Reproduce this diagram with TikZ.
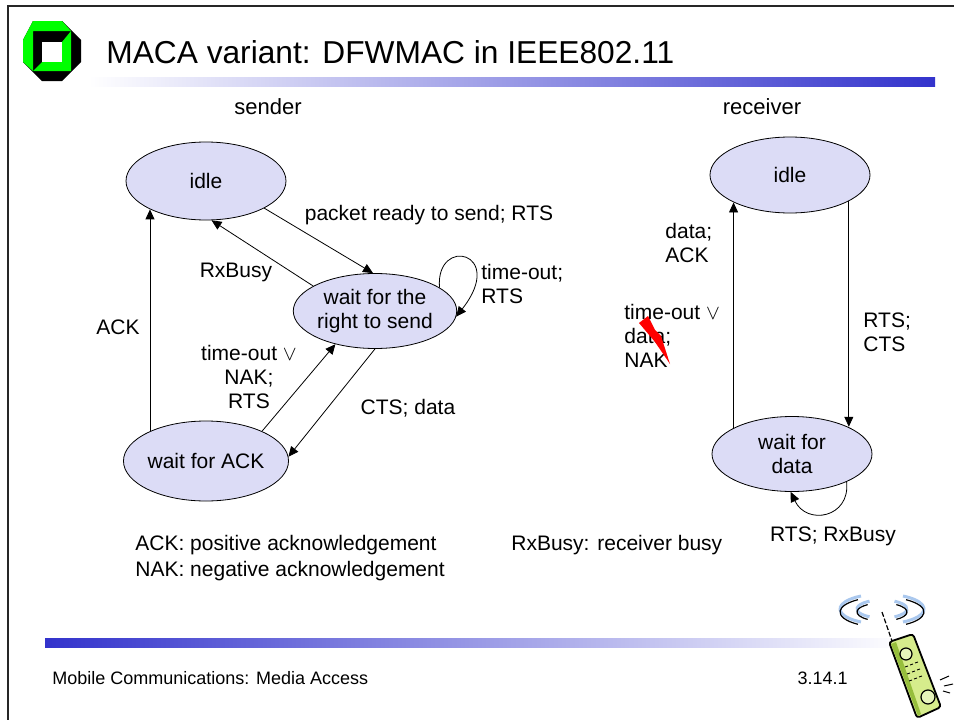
\documentclass[tikz,border=0pt]{standalone}
\usepackage{fontspec}
\setmainfont{Liberation Sans}
\usepackage{xcolor}
\usetikzlibrary{shapes.geometric, positioning, arrows.meta}

\definecolor{statefill}{RGB}{220,220,246}
\definecolor{barblue}{RGB}{51,51,204}
\definecolor{logogreen}{RGB}{0,255,0}
\definecolor{wavblue}{RGB}{170,200,238}
\definecolor{phonegreen}{RGB}{214,236,140}
\definecolor{phonedark}{RGB}{150,190,60}

\tikzset{
    state/.style={ellipse, draw, fill=statefill, inner sep=0pt,
        minimum width=160pt, minimum height=78pt, align=center,
        font=\fontsize{21}{24}\selectfont},
    lbl/.style={inner sep=0pt, font=\fontsize{21}{24}\selectfont},
}

\begin{document}
\begin{tikzpicture}[x=1pt, y=-1pt, >={Triangle[length=10pt,width=9pt]}, line width=0.8pt]
    \useasboundingbox (0,0) rectangle (954,720);
    \fill[white] (0,0) rectangle (954,720);

    % Khung và logo
    \draw[line width=2pt, black!85] (7.5,720) -- (7.5,6) -- (954,6);
    \fill[black] (33,21) -- (62,21) -- (81,40) -- (81,62) -- (62,81) -- (42,81) -- (23,62) -- (23,40) -- cycle;
    \fill[logogreen] (23,40) -- (33,21) -- (62,21) -- (71,31) -- (33,31) -- (33,71) -- (23,62) -- cycle;
    \fill[logogreen] (71,31) -- (71,71) -- (33,71) -- (42,62) -- (62,62) -- (62,42) -- cycle;
    \fill[white] (42,42) rectangle (62,62);

    % Tiêu đề
    \node[anchor=base west, inner sep=0pt, font=\fontsize{31.7}{36}\selectfont] (title) at (106,63)
        {MACA variant: DFWMAC in IEEE802.11};
    \shade[left color=white, right color=barblue] (88,77) rectangle (935,86);

    \node[lbl, font=\fontsize{22}{26}\selectfont] (sender) at (268,107) {sender};
    \node[lbl, font=\fontsize{22}{26}\selectfont] (receiver) at (762,107) {receiver};

    % Các trạng thái
    \node[state] (sidle) at (206,181) {idle};
    \node[state, minimum height=75pt] (swait) at (375,311) {wait for the\\right to send};
    \node[state, minimum height=80pt] (sack) at (206,461) {wait for ACK};
    \node[state, minimum height=76pt] (ridle) at (790,175) {idle};
    \node[state, minimum height=75pt] (rdata) at (792,454) {wait for\\data};

    % Chuyển trạng thái bên gửi
    \draw[->] (sidle.-25) -- (swait.93);
    \draw[->] (swait.158) -- (sidle.-82);
    \draw[->] (swait.20) .. controls +(-4,-52) and +(51,-65) .. (swait.-4);
    \draw[->] (swait.-90) -- (sack.3);
    \draw[->] (sack.28) -- (swait.-140);
    \draw[->] (sack.152) -- (sack.152 |- sidle.-153);

    \node[lbl] (lpkt) at (429,215) {packet ready to send; RTS};
    \node[lbl] (lbusy) at (236,272) {RxBusy};
    \node[lbl, anchor=west, align=left] (lloop) at (481,284) {time-out;\\RTS};
    \node[lbl] (lcts) at (408,408) {CTS; data};
    \node[lbl, align=center] (lnak) at (249,377) {time-out $\vee$\\NAK;\\RTS};
    \node[lbl] (lack) at (118,327) {ACK};

    % Chuyển trạng thái bên nhận
    \draw[->] (ridle.-24) -- (ridle.-24 |- rdata.26);
    \draw[->] (rdata.156) -- (rdata.156 |- ridle.-154);
    \draw[->] (rdata.-27) .. controls +(4,36) and +(16,34) .. (rdata.-92);

    \node[lbl, anchor=west, align=left] (lrts) at (863,332) {RTS;\\CTS};
    \node[lbl, anchor=west, align=left] (ldata) at (665,243) {data;\\ACK};
    \node[lbl, anchor=west, align=left] (lfail) at (624,336) {time-out $\vee$\\data;\\NAK};
    \node[lbl] (lrx) at (833,536) {RTS; RxBusy};
    \fill[red] (639,323) -- (648,316) -- (655,330) -- (661,336) -- (670,364) -- (655,342) -- (650,336) -- cycle;

    % Chú thích
    \node[lbl, anchor=west] (nack) at (135,545) {ACK: positive acknowledgement};
    \node[lbl, anchor=west] (nnak) at (135,571) {NAK: negative acknowledgement};
    \node[lbl, anchor=west] (nbusy) at (511,545) {RxBusy: receiver busy};

    % Chân trang
    \shade[left color=barblue, right color=white] (45,638) rectangle (905,647);
    \node[anchor=west, inner sep=0pt, font=\fontsize{18}{20}\selectfont] (foot) at (52,678)
        {Mobile Communications: Media Access};
    \node[anchor=east, inner sep=0pt, font=\fontsize{18}{20}\selectfont] (page) at (848,678) {3.14.1};

    % Điện thoại
    \foreach \r/\h in {42/15, 25/9} {
        \draw[wavblue, line width=3pt] (882,609) ++({\r*cos(120)},{\h*sin(120)})
            arc[start angle=120, end angle=240, x radius=\r, y radius=\h];
        \draw[wavblue, line width=3pt] (882,609) ++({\r*cos(-60)},{\h*sin(-60)})
            arc[start angle=-60, end angle=60, x radius=\r, y radius=\h];
        \draw[line width=1.2pt] (882,612) ++({\r*cos(125)},{\h*sin(125)})
            arc[start angle=125, end angle=235, x radius=\r, y radius=\h];
        \draw[line width=1.2pt] (882,612) ++({\r*cos(-55)},{\h*sin(-55)})
            arc[start angle=-55, end angle=55, x radius=\r, y radius=\h];
    }
    \draw[line width=1.2pt, dash pattern=on 5pt off 2pt] (882,612) -- (892,641);
    \filldraw[fill=phonegreen, line width=1.8pt, rounded corners=3pt]
        (889,642) -- (913,634) -- (941,707) -- (917,718) -- cycle;
    \fill[phonedark] (891,644) -- (896,642) -- (921,714) -- (918,716) -- cycle;
    \filldraw[fill=phonegreen!60, line width=1.2pt] (906,654) circle (6);
    \filldraw[fill=phonegreen!60, line width=1.2pt] (928,697) circle (7);
    \foreach \i in {0,1,2} {
        \foreach \j in {0,1,2} {
            \draw[line width=0.9pt] ({905+5*\j+2*\i},{667+7*\i-2*\j}) -- ++(3,-1);
        }
    }
    \draw[line width=1pt] (940,680) -- (949,676);
    \draw[line width=1pt] (944,686) -- (953,684);
    \draw[line width=1pt] (943,691) -- (950,693);
\end{tikzpicture}
\end{document}
